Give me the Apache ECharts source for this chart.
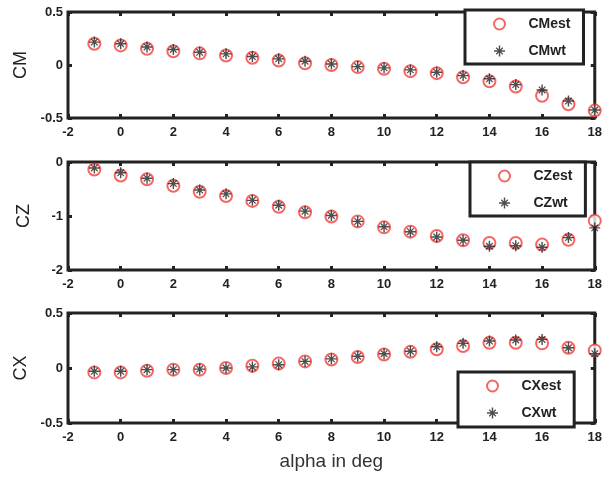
<!DOCTYPE html>
<html><head><meta charset="utf-8">
<script src="https://cdn.jsdelivr.net/npm/echarts@6/dist/echarts.min.js"></script>
<style>html,body{margin:0;padding:0;background:#fff}#c{width:605px;height:478px}</style>
</head><body><div id="c"></div>
<script>
const alpha = [-1,0,1,2,3,4,5,6,7,8,9,10,11,12,13,14,15,16,17,18];
const xTicks = [-2,0,2,4,6,8,10,12,14,16,18];
const CMest = [0.20,0.185,0.153,0.13,0.11,0.09,0.068,0.043,0.017,0.0,-0.02,-0.036,-0.058,-0.077,-0.115,-0.153,-0.203,-0.29,-0.37,-0.43];
const CMwt  = [0.216,0.20,0.17,0.147,0.12,0.105,0.08,0.058,0.036,0.01,-0.015,-0.027,-0.046,-0.068,-0.10,-0.13,-0.185,-0.235,-0.34,-0.425];
const CZest = [-0.14,-0.25,-0.32,-0.44,-0.55,-0.63,-0.72,-0.83,-0.93,-1.01,-1.10,-1.21,-1.29,-1.37,-1.45,-1.50,-1.50,-1.53,-1.44,-1.09];
const CZwt  = [-0.11,-0.20,-0.30,-0.40,-0.52,-0.59,-0.71,-0.80,-0.91,-0.99,-1.10,-1.20,-1.29,-1.39,-1.45,-1.56,-1.55,-1.58,-1.40,-1.22];
const CXest = [-0.04,-0.04,-0.025,-0.015,-0.015,0.0,0.02,0.04,0.06,0.077,0.10,0.123,0.147,0.17,0.20,0.23,0.23,0.224,0.184,0.16];
const CXwt  = [-0.03,-0.03,-0.015,-0.015,-0.01,0.0,0.01,0.03,0.06,0.083,0.107,0.13,0.153,0.193,0.224,0.245,0.255,0.26,0.184,0.13];
const yTicksCM = [-0.5,0,0.5];
const yTicksCZ = [-2,-1,0];
const yTicksCX = [-0.5,0,0.5];

const star = 'path://M8.7 0L11.3 0L11.3 20L8.7 20Z M0 8.7L20 8.7L20 11.3L0 11.3Z M3.2 4.8L4.8 3.2L16.8 15.2L15.2 16.8Z M15.2 3.2L16.8 4.8L4.8 16.8L3.2 15.2Z';
const dark = '#222';
const red = '#f2403c';
const lblFont = {color: dark, fontSize: 13, fontWeight: 'bold', fontFamily: 'Liberation Sans, Arial, sans-serif'};

const grids = [
  {left: 68, right: 9, top: 12, height: 106},
  {left: 68, right: 9, top: 162, height: 108},
  {left: 68, right: 9, top: 313, height: 110}
];
const yRanges = [yTicksCM, yTicksCZ, yTicksCX];
const yNames = ['CM','CZ','CX'];
const tickStyle = {show:true, inside:true, length:4, lineStyle:{color:dark, width:3}};

const xAxes = [], yAxes = [];
grids.forEach((g, i) => {
  const xi = {type:'value', gridIndex:i, position:'bottom', min:xTicks[0], max:xTicks[xTicks.length-1], interval:xTicks[1]-xTicks[0],
    axisLine:{show:false, onZero:false}, splitLine:{show:false},
    axisTick:tickStyle,
    axisLabel:Object.assign({margin:8}, lblFont)};
  if (i === 2) {
    Object.assign(xi, {name:'alpha in deg', nameLocation:'middle', nameGap:29,
      nameTextStyle:{color:'#333', fontSize:19, fontFamily:'Liberation Sans, Arial, sans-serif'}});
  }
  xAxes.push(xi);
  xAxes.push({type:'value', gridIndex:i, position:'top', min:xTicks[0], max:xTicks[xTicks.length-1], interval:xTicks[1]-xTicks[0],
    axisLine:{show:false, onZero:false}, splitLine:{show:false}, axisLabel:{show:false},
    axisTick:tickStyle});
  const yt = yRanges[i];
  yAxes.push({type:'value', gridIndex:i, position:'left', min:yt[0], max:yt[yt.length-1], interval:yt[1]-yt[0],
    axisLine:{show:false, onZero:false}, splitLine:{show:false},
    axisTick:tickStyle,
    axisLabel:Object.assign({margin:5}, lblFont),
    name:yNames[i], nameLocation:'middle', nameGap:35, nameRotate:90,
    nameTextStyle:{color:dark, fontSize:18, fontFamily:'Liberation Sans, Arial, sans-serif'}});
  yAxes.push({type:'value', gridIndex:i, position:'right', min:yt[0], max:yt[yt.length-1], interval:yt[1]-yt[0],
    axisLine:{show:false, onZero:false}, splitLine:{show:false}, axisLabel:{show:false},
    axisTick:tickStyle});
});

function pts(ys){ return alpha.map((a, k) => [a, ys[k]]); }
const sets = [[CMest, CMwt, 'CMest','CMwt'], [CZest, CZwt, 'CZest','CZwt'], [CXest, CXwt, 'CXest','CXwt']];
const series = [];
sets.forEach((s, i) => {
  series.push({name:s[2], type:'scatter', xAxisIndex:2*i, yAxisIndex:2*i, data:pts(s[0]),
    symbol:'emptyCircle', symbolSize:12, itemStyle:{color:red, borderWidth:1.5}, z:2, silent:true});
  series.push({name:s[3], type:'scatter', xAxisIndex:2*i, yAxisIndex:2*i, data:pts(s[1]),
    symbol:star, symbolSize:11, itemStyle:{color:dark}, z:3, silent:true});
});

const legendBase = {orient:'vertical', selectedMode:false, itemWidth:30, itemHeight:11, itemGap:13,
  borderColor:dark, borderWidth:3, backgroundColor:'#fff',
  textStyle:{color:dark, fontSize:14, fontWeight:'bold', fontFamily:'Liberation Sans, Arial, sans-serif', padding:[0,0,0,9]}};
const legends = [
  Object.assign({}, legendBase, {data:['CMest','CMwt'], left:465, top:10, padding:[7,13,6,28]}),
  Object.assign({}, legendBase, {data:['CZest','CZwt'], left:470, top:162, padding:[7,13,6,28]}),
  Object.assign({}, legendBase, {data:['CXest','CXwt'], left:458, top:372, padding:[7,13,7,28]})
];

const chart = echarts.init(document.getElementById('c'), null, {renderer:'canvas'});
chart.setOption({
  animation:false,
  backgroundColor:'#fff',
  grid: grids.map(g => Object.assign({show:true, borderColor:dark, borderWidth:3, backgroundColor:'transparent'}, g)),
  xAxis: xAxes,
  yAxis: yAxes,
  legend: legends,
  series: series
});
</script></body></html>
